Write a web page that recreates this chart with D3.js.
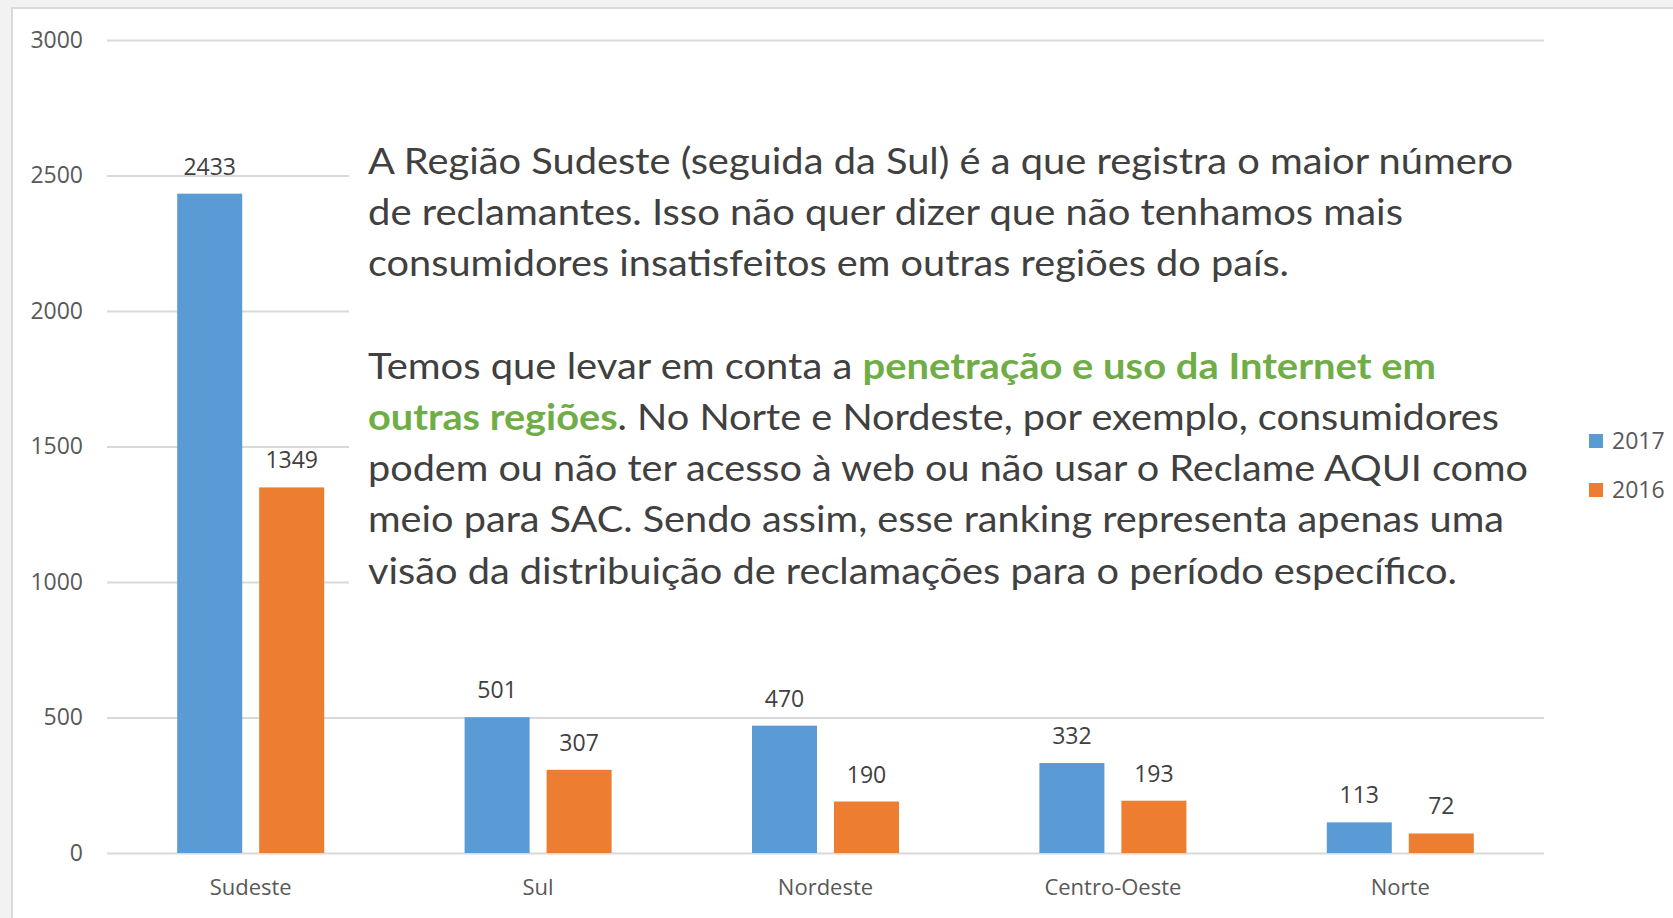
<!DOCTYPE html>
<html>
<head>
<meta charset="utf-8">
<script src="https://cdn.jsdelivr.net/npm/d3@7"></script>
<style>
  html, body { margin: 0; padding: 0; background: #f2f2f2; }
  svg { display: block; }
</style>
</head>
<body>
<svg id="chart"></svg>
<script>
// data
const regions = ["Sudeste", "Sul", "Nordeste", "Centro-Oeste", "Norte"];
const series = ["2017", "2016"];
const values2017 = [2433, 501, 470, 332, 113];
const values2016 = [1349, 307, 190, 193, 72];
const yTicks = [0, 500, 1000, 1500, 2000, 2500, 3000];
const colors = ["#5b9bd5", "#ed7d31"];

// text block: each line is a list of [text, highlighted]
const noteLines = [
  [["A Região Sudeste (seguida da Sul) é a que registra o maior número", false]],
  [["de reclamantes. Isso não quer dizer que não tenhamos mais", false]],
  [["consumidores insatisfeitos em outras regiões do país.", false]],
  null,
  [["Temos que levar em conta a ", false], ["penetração e uso da Internet em", true]],
  [["outras regiões", true], [". No Norte e Nordeste, por exemplo, consumidores", false]],
  [["podem ou não ter acesso à web ou não usar o Reclame AQUI como", false]],
  [["meio para SAC. Sendo assim, esse ranking representa apenas uma", false]],
  [["visão da distribuição de reclamações para o período específico.", false]]
];
const noteWidths = [1145, 1035, 921, null, 1068, 1131, 1160, 1136, 1089];

const width = 1673, height = 918;
const svg = d3.select("#chart").attr("width", width).attr("height", height);

// panel frame
svg.append("rect")
  .attr("x", 12).attr("y", 8)
  .attr("width", width).attr("height", height)
  .attr("fill", "#fff")
  .attr("stroke", "#d9d9d9")
  .attr("stroke-width", 2);

const plot = { left: 107, right: 1544, top: 40, bottom: 853 };

const x0 = d3.scaleBand().domain(regions).range([plot.left, plot.right]);
const x1 = d3.scaleBand().domain(series)
  .range([0, x0.bandwidth()])
  .paddingInner(0.207)
  .paddingOuter(0.856);
const y = d3.scaleLinear().domain([0, 3000]).range([plot.bottom, plot.top]);
const color = d3.scaleOrdinal(series, colors);

// gridlines + y labels
const yAxis = d3.axisLeft(y)
  .tickValues(yTicks)
  .tickFormat(d3.format("d"))
  .tickSize(-(plot.right - plot.left))
  .tickPadding(24);
const gy = svg.append("g")
  .attr("transform", `translate(${plot.left},0)`)
  .call(yAxis);
gy.select(".domain").remove();
gy.selectAll(".tick line").attr("stroke", "#d9d9d9").attr("stroke-width", 2);
gy.selectAll(".tick text")
  .attr("fill", "#595959")
  .style("font-family", "'Open Sans', 'Noto Sans', sans-serif")
  .style("font-size", "23px");

// x labels
const xAxis = d3.axisBottom(x0).tickSize(0).tickPadding(26);
const gx = svg.append("g")
  .attr("transform", `translate(0,${plot.bottom})`)
  .call(xAxis);
gx.select(".domain").remove();
gx.selectAll(".tick text")
  .attr("fill", "#595959")
  .style("font-family", "'Open Sans', 'Noto Sans', sans-serif")
  .style("font-size", "22px");

// bars
const rows = regions.map((r, i) => ({ region: r, vals: [
  { key: "2017", value: values2017[i] },
  { key: "2016", value: values2016[i] }
]}));

const group = svg.append("g").selectAll("g")
  .data(rows)
  .join("g")
  .attr("transform", d => `translate(${x0(d.region)},0)`);

group.selectAll("rect")
  .data(d => d.vals)
  .join("rect")
  .attr("x", d => x1(d.key))
  .attr("y", d => y(d.value))
  .attr("width", x1.bandwidth())
  .attr("height", d => y(0) - y(d.value))
  .attr("fill", d => color(d.key));

group.selectAll("text")
  .data(d => d.vals)
  .join("text")
  .attr("x", d => x1(d.key) + x1.bandwidth() / 2)
  .attr("y", d => y(d.value) - 19)
  .attr("text-anchor", "middle")
  .attr("fill", "#404040")
  .style("font-family", "'Open Sans', 'Noto Sans', sans-serif")
  .style("font-size", "23px")
  .text(d => d.value);

// text box over the grid
svg.append("rect")
  .attr("x", 349).attr("y", 125)
  .attr("width", 1210).attr("height", 485)
  .attr("fill", "#fff");

const note = svg.append("g");
noteLines.forEach((line, i) => {
  if (!line) return;
  const t = note.append("text")
    .attr("x", 368)
    .attr("y", 174 + 51.2 * i)
    .attr("fill", "#404040")
    .style("font-family", "Lato, 'Open Sans', sans-serif")
    .style("font-size", "36px")
    .attr("textLength", noteWidths[i])
    .attr("lengthAdjust", "spacingAndGlyphs");
  line.forEach(([s, hl]) => {
    t.append("tspan")
      .attr("fill", hl ? "#70ad47" : null)
      .attr("font-weight", hl ? "bold" : null)
      .text(s);
  });
});

// legend
const legend = svg.append("g").attr("transform", "translate(1589,434)");
const li = legend.selectAll("g")
  .data(series)
  .join("g")
  .attr("transform", (d, i) => `translate(0,${i * 49})`);
li.append("rect")
  .attr("width", 14).attr("height", 14)
  .attr("fill", d => color(d));
li.append("text")
  .attr("x", 23).attr("y", 7)
  .attr("dy", "0.35em")
  .attr("fill", "#595959")
  .style("font-family", "'Open Sans', 'Noto Sans', sans-serif")
  .style("font-size", "23px")
  .text(d => d);
</script>
</body>
</html>
